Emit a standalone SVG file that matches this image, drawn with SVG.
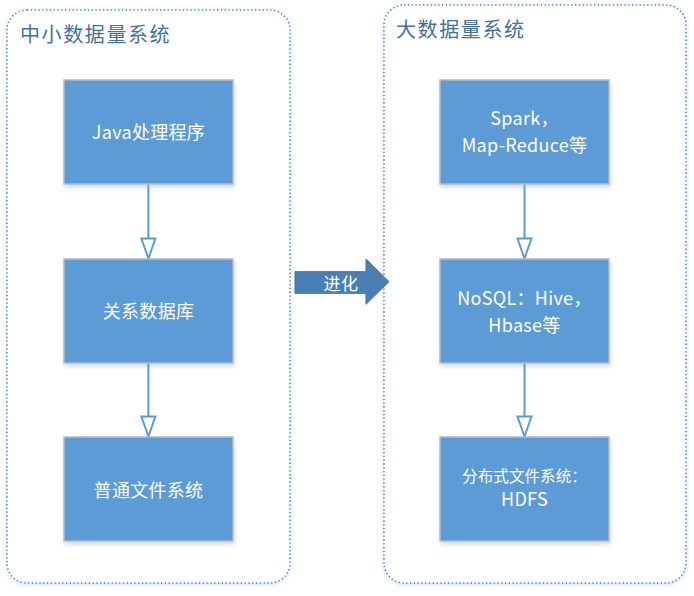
<svg xmlns="http://www.w3.org/2000/svg" width="694" height="596" viewBox="0 0 694 596">
<defs>
<style>
.container{fill:#ffffff;stroke:#4a7cb0;stroke-width:1.5;stroke-dasharray:1.3 2.5;filter:url(#glow)}
.title{font-family:"Noto Sans CJK SC","Noto Sans",sans-serif;font-size:20px;fill:#41719c;letter-spacing:1.6px}
.box{fill:#5b9bd5;stroke:#b4bcc8;stroke-width:1.5;filter:url(#shadow)}
.label{font-family:"Noto Sans CJK SC","Noto Sans",sans-serif;font-size:18px;fill:#ffffff;text-anchor:middle;letter-spacing:0.3px}
.small{font-size:15.6px;letter-spacing:0}
.conn{stroke:#5b9bd5;stroke-width:2;fill:none;marker-end:url(#hollow)}
.evolve{fill:#4a7fb5;stroke:#41719c;stroke-width:1}
.evtext{font-size:17px;letter-spacing:0.5px}
</style>
<filter id="glow" x="-5%" y="-5%" width="110%" height="110%">
<feDropShadow dx="0" dy="1" stdDeviation="2" flood-color="#9cc3e8" flood-opacity="0.6"/>
</filter>
<filter id="shadow" x="-10%" y="-10%" width="125%" height="130%">
<feDropShadow dx="1" dy="3" stdDeviation="2" flood-color="#7f9fc0" flood-opacity="0.35"/>
</filter>
<marker id="hollow" viewBox="-2 -2 24 18" refX="20" refY="7" markerWidth="24" markerHeight="18" markerUnits="userSpaceOnUse" orient="auto">
<path d="M0,0 L20,7 L0,14 Z" fill="#ffffff" stroke="#5b9bd5" stroke-width="2" stroke-linejoin="miter"/>
</marker>
</defs>

<g id="container-small">
<rect class="container" x="7" y="10" width="283" height="573" rx="20" ry="20"/>
<text class="title" x="20" y="42">中小数据量系统</text>
</g>
<g id="container-big">
<rect class="container" x="384" y="5" width="302" height="578" rx="20" ry="20"/>
<text class="title" x="396" y="37">大数据量系统</text>
</g>

<g id="connectors">
<line class="conn" x1="148.4" y1="184" x2="148.4" y2="258.5"/>
<line class="conn" x1="148.4" y1="363" x2="148.4" y2="436.5"/>
<line class="conn" x1="524.5" y1="184" x2="524.5" y2="258.5"/>
<line class="conn" x1="524.5" y1="363" x2="524.5" y2="436.5"/>
</g>

<g id="java">
<rect class="box" x="64" y="80" width="169" height="104"/>
<text class="label" x="148.5" y="139">Java处理程序</text>
</g>
<g id="rdb">
<rect class="box" x="64" y="259" width="169" height="104"/>
<text class="label" x="148.5" y="318">关系数据库</text>
</g>
<g id="fs">
<rect class="box" x="64" y="437" width="169" height="104"/>
<text class="label" x="148.5" y="497">普通文件系统</text>
</g>

<g id="spark">
<rect class="box" x="440" y="80" width="169" height="104"/>
<text class="label" x="524.5" y="125">Spark，</text>
<text class="label" x="524.5" y="152">Map-Reduce等</text>
</g>
<g id="nosql">
<rect class="box" x="440" y="259" width="169" height="104"/>
<text class="label" x="524.5" y="305">NoSQL：Hive，</text>
<text class="label" x="524.5" y="332">Hbase等</text>
</g>
<g id="hdfs">
<rect class="box" x="440" y="437" width="169" height="104"/>
<text class="label small" x="524.5" y="482">分布式文件系统：</text>
<text class="label" x="524.5" y="506">HDFS</text>
</g>

<g id="evolve">
<polygon class="evolve" points="295,271.7 366,271.7 366,259 389,281.7 366,304.3 366,293.3 295,293.3"/>
<text class="label evtext" x="341" y="290">进化</text>
</g>
</svg>
